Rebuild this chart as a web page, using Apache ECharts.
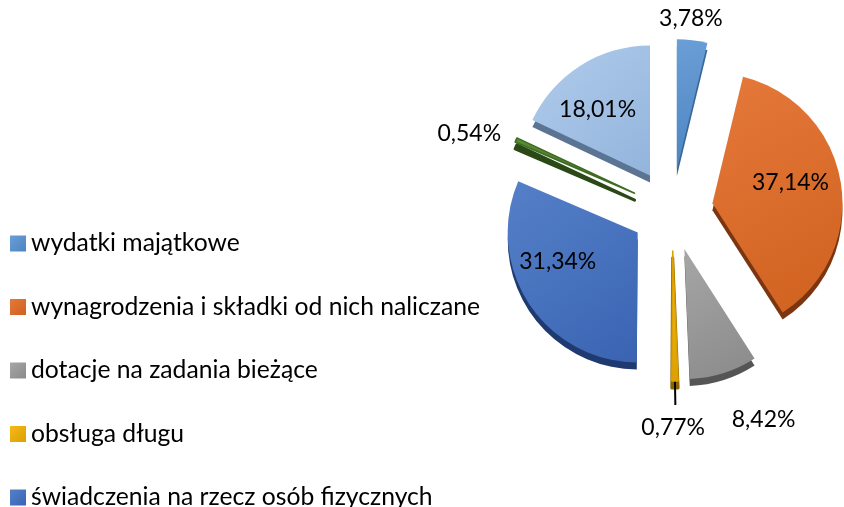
<!DOCTYPE html>
<html>
<head>
<meta charset="utf-8">
<script src="https://cdn.jsdelivr.net/npm/echarts@6/dist/echarts.min.js"></script>
<style>
html,body{margin:0;padding:0;background:#fff;}
#main{width:844px;height:507px;}
</style>
</head>
<body>
<div id="main"></div>
<script>
// struktura wydatków - udział procentowy
var categories = [
    'wydatki majątkowe',
    'wynagrodzenia i składki od nich naliczane',
    'dotacje na zadania bieżące',
    'obsługa długu',
    'świadczenia na rzecz osób fizycznych',
    'wydatki na programy finansowane z udziałem środków UE',
    'wydatki związane z realizacją zadań statutowych'
];
var values = [3.78, 37.14, 8.42, 0.77, 31.34, 0.54, 18.01];
var labelInside = [false, true, false, false, true, false, true];

var lightColors = ['#6A9ED6', '#E5793A', '#A6A6A6', '#F4BA1A', '#5580C8', '#5A8C36', '#B0CCEC'];
var darkColors = ['#4D84C2', '#D0611F', '#8A8A8A', '#DDA000', '#3A64B2', '#3F6C22', '#93B4DC'];
var sideColors = ['#3B6796', '#7B3611', '#555555', '#8A6400', '#1F3A70', '#2B4916', '#5C7494'];

// przesunięcia etykiet
var labelShift = [[-41, 2], [11, -9], [-4, 24], [-39, 23], [-23, -8], [12, 3], [-16, -8]];

var myChart = echarts.init(document.getElementById('main'));

function fmt(p) {
    return p.value.toFixed(2).replace('.', ',') + '%';
}

var frontData = [], backData = [];
for (var i = 0; i < values.length; i++) {
    var thin = values[i] < 1;
    frontData.push({
        name: categories[i],
        value: values[i],
        selected: true,
        itemStyle: {
            color: new echarts.graphic.LinearGradient(0, 0, 1, 1, [
                {offset: 0, color: lightColors[i]},
                {offset: 1, color: darkColors[i]}
            ]),
            borderColor: darkColors[i],
            borderWidth: thin ? 1.5 : 0
        },
        label: {position: labelInside[i] ? 'inside' : 'outside'},
        labelLine: {show: i == 3}
    });
    backData.push({
        name: categories[i],
        value: values[i],
        selected: true,
        itemStyle: {
            color: sideColors[i],
            borderColor: sideColors[i],
            borderWidth: thin ? 3 : 0
        }
    });
}

myChart.setOption({
    animation: false,
    legend: {
        orient: 'vertical',
        left: 5,
        top: 226,
        height: 1000,
        icon: 'rect',
        itemWidth: 16,
        itemHeight: 16,
        itemGap: 38.5,
        selectedMode: false,
        data: categories,
        itemStyle: {color: 'inherit', borderWidth: 0},
        textStyle: {
            fontFamily: 'Lato',
            fontSize: 24.7,
            lineHeight: 24,
            color: '#000'
        }
    },
    series: [
        {
            name: 'front',
            type: 'pie',
            z: 3,
            center: [672, 210],
            radius: 130,
            startAngle: 90,
            clockwise: true,
            selectedMode: 'multiple',
            selectedOffset: 41,
            avoidLabelOverlap: false,
            emphasis: {disabled: true},
            label: {
                formatter: fmt,
                fontFamily: 'Lato',
                fontSize: 23,
                color: '#000'
            },
            labelLine: {
                length: 24,
                length2: 0,
                lineStyle: {color: '#000', width: 2}
            },
            labelLayout: function (params) {
                var s = labelShift[params.dataIndex];
                return {dx: s[0], dy: s[1]};
            },
            data: frontData
        },
        {
            name: 'back',
            type: 'pie',
            z: 2,
            silent: true,
            center: [672, 217],
            radius: 130,
            startAngle: 90,
            clockwise: true,
            selectedMode: 'multiple',
            selectedOffset: 41,
            label: {show: false},
            labelLine: {show: false},
            data: backData
        }
    ]
});
</script>
</body>
</html>
